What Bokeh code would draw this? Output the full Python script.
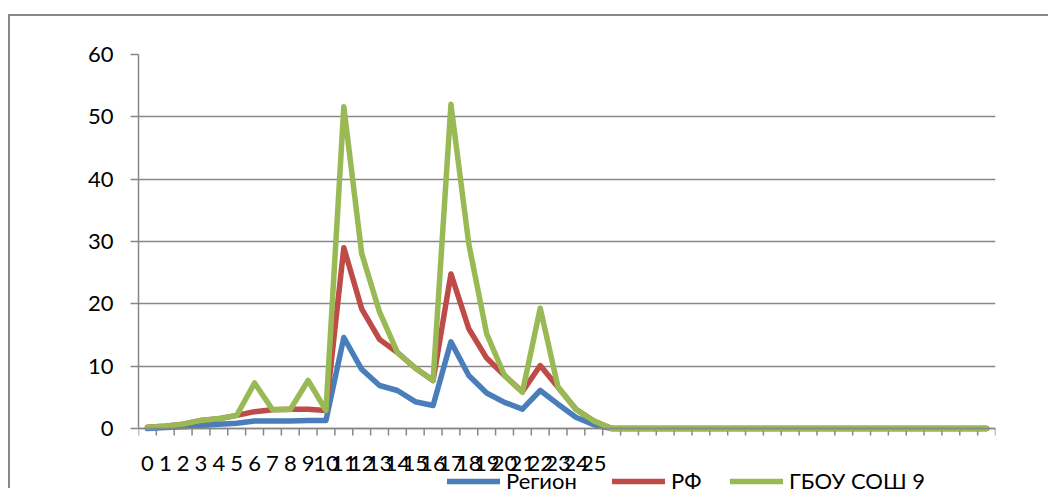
from bokeh.plotting import figure
from bokeh.models import FixedTicker, Legend, LegendItem, Span, Range1d
from bokeh.core.properties import value
from bokeh.embed import file_html
from bokeh.resources import INLINE

# ---- data ----
x_labels = [str(i) for i in range(26)] + [""] * 22
region = [0.0, 0.15, 0.3, 0.5, 0.7, 0.85, 1.2, 1.2, 1.2, 1.3, 1.3, 14.6, 9.5, 6.9, 6.1, 4.3, 3.7,
          13.9, 8.5, 5.7, 4.2, 3.1, 6.1, 3.9, 1.8, 0.6] + [0.0] * 22
rf = [0.2, 0.35, 0.7, 1.3, 1.55, 2.1, 2.7, 3.0, 3.1, 3.1, 2.9, 29.0, 19.2, 14.3, 12.2, 9.7, 7.7,
      24.8, 16.0, 11.3, 8.5, 5.9, 10.1, 6.6, 3.1, 1.2] + [0.0] * 22
school = [0.2, 0.4, 0.7, 1.3, 1.6, 2.1, 7.3, 3.05, 3.05, 7.7, 2.9, 51.6, 28.1, 18.7, 12.2, 9.7, 7.7,
          52.0, 29.6, 15.2, 8.5, 5.8, 19.3, 6.6, 3.1, 1.2] + [0.0] * 22
series_names = ["Регион", "РФ", "ГБОУ СОШ 9"]
colors = ["#4A7EBB", "#BE4B48", "#98B954"]
y_ticks = [0, 10, 20, 30, 40, 50, 60]

# ---- layout constants (pixels) ----
FONT = "Lato"
GRAY = "#878787"
W, H = 1040, 474
MB_LEFT, MB_TOP, MB_RIGHT, MB_BOTTOM = 128, 38, 55, 0
PLOT_PX = 374          # pixel height of the 0..60 band
Y_MAX = 60
px_per_unit = PLOT_PX / Y_MAX
frame_h = H - MB_TOP - MB_BOTTOM
y_min = Y_MAX - frame_h / px_per_unit

n = len(x_labels)
x = list(range(n))

p = figure(width=W, height=H, x_range=Range1d(-0.5, n - 0.5), y_range=Range1d(y_min, Y_MAX),
           output_backend="svg", toolbar_location=None, x_axis_location=None,
           min_border_left=MB_LEFT, min_border_right=MB_RIGHT,
           min_border_top=MB_TOP, min_border_bottom=MB_BOTTOM,
           styles={"margin-left": "8px", "margin-top": "14px",
                   "border-left": "2px solid " + GRAY, "border-top": "2px solid " + GRAY})
p.outline_line_color = None
p.background_fill_color = "white"
p.border_fill_color = "white"

# y axis
p.yaxis.ticker = FixedTicker(ticks=y_ticks)
p.yaxis.bounds = (0, Y_MAX)
p.yaxis.minor_tick_line_color = None
p.yaxis.major_tick_out = 8
p.yaxis.major_tick_in = 0
p.yaxis.major_tick_line_color = GRAY
p.yaxis.major_tick_line_width = 1.5
p.yaxis.axis_line_color = GRAY
p.yaxis.axis_line_width = 1.5
p.yaxis.major_label_standoff = 17
p.yaxis.major_label_text_font = FONT
p.yaxis.major_label_text_font_size = "22px"
p.yaxis.major_label_text_color = "black"

p.xgrid.visible = False
p.ygrid.ticker = FixedTicker(ticks=y_ticks)
p.ygrid.grid_line_color = GRAY
p.ygrid.grid_line_width = 1.5

# category (x) axis drawn at value 0
p.add_layout(Span(location=0, dimension="width", line_color=GRAY, line_width=1.5))
bounds = [i - 0.5 for i in range(n + 1)]
tick_len = 7 / px_per_unit
p.segment(x0=bounds, y0=[0] * len(bounds), x1=bounds, y1=[-tick_len] * len(bounds),
          line_color=GRAY, line_width=1.5)
label_y = -35 / px_per_unit
p.text(x=x, y=[label_y] * n, text=x_labels, text_align="center", text_baseline="middle",
       text_font=value(FONT), text_font_size=value("22px"), text_color="black")

renderers = []
for vals, c in zip([region, rf, school], colors):
    r = p.line(x, vals, line_color=c, line_width=5.5, line_join="round", line_cap="round")
    renderers.append(r)

# legend entries along the bottom edge
legend_x = [309, 474, 592]
for name, r, lx in zip(series_names, renderers, legend_x):
    lg = Legend(items=[LegendItem(label=name, renderers=[r])], location=(lx, -4),
                orientation="horizontal", padding=0, margin=0, border_line_color=None,
                background_fill_alpha=0, glyph_width=53, glyph_height=20, label_standoff=6,
                label_text_font=FONT, label_text_font_size="22px", label_height=20,
                label_text_color="black")
    p.add_layout(lg, "center")

open("out.html", "w").write(file_html(p, INLINE))
